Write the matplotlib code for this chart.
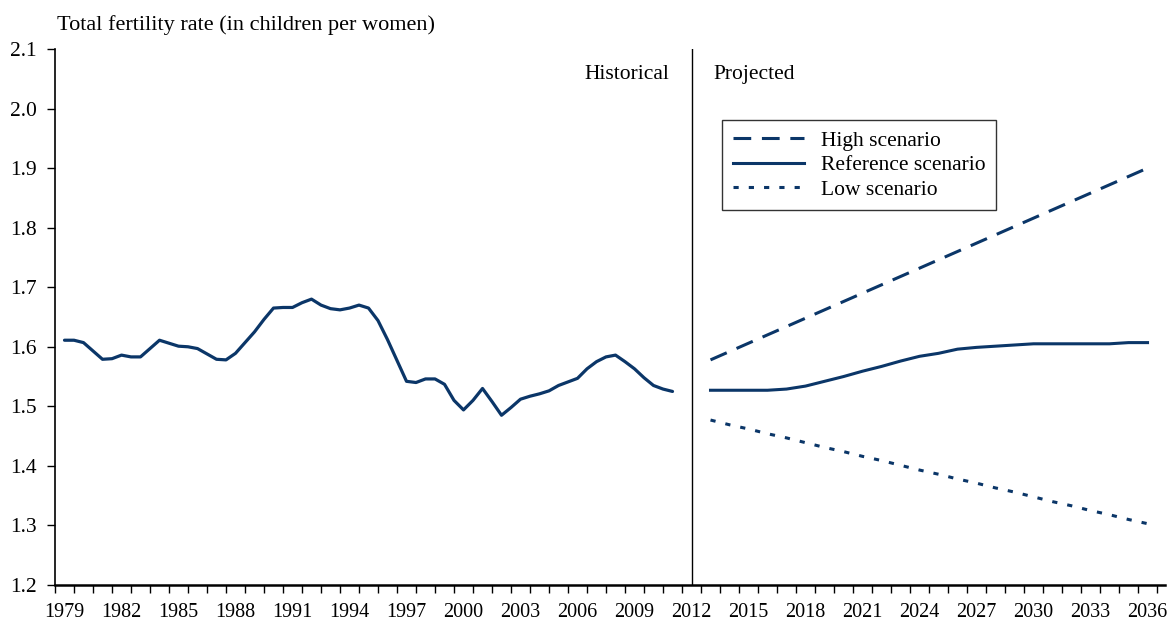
import matplotlib
matplotlib.use('Agg')
import matplotlib.pyplot as plt
from matplotlib.ticker import FixedLocator, MultipleLocator

plt.rcParams['font.family'] = ['Liberation Serif', 'DejaVu Serif']

# Historical series, read every half year off the chart
hist_years = [1979.0, 1979.5, 1980.0, 1980.5, 1981.0, 1981.5, 1982.0, 1982.5, 1983.0, 1983.5,
              1984.0, 1984.5, 1985.0, 1985.5, 1986.0, 1986.5, 1987.0, 1987.5, 1988.0, 1988.5,
              1989.0, 1989.5, 1990.0, 1990.5, 1991.0, 1991.5, 1992.0, 1992.5, 1993.0, 1993.5,
              1994.0, 1994.5, 1995.0, 1995.5, 1996.0, 1996.5, 1997.0, 1997.5, 1998.0, 1998.5,
              1999.0, 1999.5, 2000.0, 2000.5, 2001.0, 2001.5, 2002.0, 2002.5, 2003.0, 2003.5,
              2004.0, 2004.5, 2005.0, 2005.5, 2006.0, 2006.5, 2007.0, 2007.5, 2008.0, 2008.5,
              2009.0, 2009.5, 2010.0, 2010.5, 2011.0]
hist_tfr = [1.611, 1.611, 1.607, 1.593, 1.579, 1.580, 1.586, 1.583, 1.583, 1.597,
            1.611, 1.606, 1.601, 1.600, 1.597, 1.588, 1.579, 1.578, 1.589, 1.607,
            1.625, 1.646, 1.665, 1.666, 1.666, 1.674, 1.680, 1.670, 1.664, 1.662,
            1.665, 1.670, 1.665, 1.644, 1.612, 1.577, 1.542, 1.540, 1.546, 1.546,
            1.537, 1.510, 1.494, 1.510, 1.530, 1.508, 1.485, 1.498, 1.512, 1.517,
            1.521, 1.526, 1.535, 1.541, 1.547, 1.563, 1.575, 1.583, 1.586, 1.575,
            1.563, 1.548, 1.535, 1.529, 1.525]

# Projections
proj_years = list(range(2013, 2037))
high = [1.578, 1.592, 1.606, 1.620, 1.634, 1.648, 1.662, 1.676, 1.690, 1.704, 1.718, 1.732,
        1.746, 1.760, 1.774, 1.788, 1.802, 1.816, 1.830, 1.844, 1.858, 1.872, 1.886, 1.900]
reference = [1.527, 1.527, 1.527, 1.527, 1.529, 1.534, 1.542, 1.550, 1.559, 1.567, 1.576, 1.584,
             1.589, 1.596, 1.599, 1.601, 1.603, 1.605, 1.605, 1.605, 1.605, 1.605, 1.607, 1.607]
low = [1.477, 1.469, 1.462, 1.454, 1.447, 1.439, 1.431, 1.424, 1.416, 1.409, 1.401, 1.393,
       1.386, 1.378, 1.371, 1.363, 1.356, 1.348, 1.340, 1.333, 1.325, 1.318, 1.310, 1.303]

label_years = list(range(1979, 2037, 3))
split_year = 2012

navy = '#0b3668'
fs = 15.5

fig = plt.figure(figsize=(11.67, 6.23), dpi=100)
ax = fig.add_axes([55 / 1167, 38 / 623, 1110 / 1167, 536 / 623])

ax.plot(hist_years, hist_tfr, color=navy, lw=2.3, solid_capstyle='round', solid_joinstyle='round')
ax.plot(proj_years, high, color=navy, lw=2.2, dashes=(5.8, 3.5), label='High scenario')
ax.plot(proj_years, reference, color=navy, lw=2.2, solid_joinstyle='round', label='Reference scenario')
ax.plot(proj_years, low, color=navy, lw=2.2, dashes=(1.7, 3.3), label='Low scenario')

ax.axvline(split_year, color='black', lw=1)

ax.set_xlim(1978.5, 2036.92)
ax.set_ylim(1.2, 2.1)

# y axis
ax.yaxis.set_major_locator(MultipleLocator(0.1))
ax.yaxis.set_major_formatter(matplotlib.ticker.FormatStrFormatter('%.1f'))
ax.tick_params(axis='y', direction='out', length=6, width=1, pad=7, labelsize=fs)

# x axis: labels at category centres, ticks on category edges
ax.xaxis.set_major_locator(FixedLocator(label_years))
ax.xaxis.set_minor_locator(FixedLocator([y - 0.5 for y in range(1979, 2038)]))
ax.tick_params(axis='x', which='major', length=0, pad=13, labelsize=14.5)
ax.tick_params(axis='x', which='minor', direction='out', length=6, width=1)

for s in ['top', 'right']:
    ax.spines[s].set_visible(False)
ax.spines['left'].set_linewidth(1.2)
ax.spines['bottom'].set_linewidth(1.8)

ax.annotate('Historical', xy=(split_year, 2.1), xytext=(-16, -25), textcoords='offset points',
            ha='right', va='bottom', fontsize=fs)
ax.annotate('Projected', xy=(split_year, 2.1), xytext=(16, -25), textcoords='offset points',
            ha='left', va='bottom', fontsize=fs)

fig.text(57 / 1167, 1 - 30 / 623, 'Total fertility rate (in children per women)', fontsize=16,
         ha='left', va='baseline')

leg = ax.legend(loc='upper left', bbox_to_anchor=((722 - 55) / 1110, (585 - 120) / 536),
                fontsize=fs, frameon=True, fancybox=False, edgecolor='black',
                handlelength=3.3, handletextpad=0.8, borderpad=0.5, labelspacing=0.2,
                borderaxespad=0)
leg.get_frame().set_linewidth(1)

fig.savefig('out.png', dpi=100)
